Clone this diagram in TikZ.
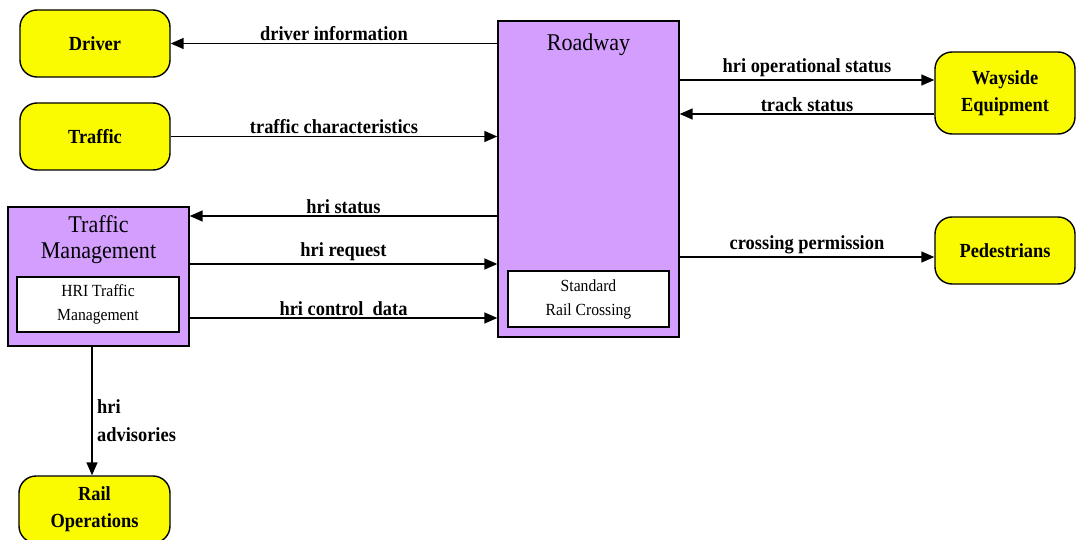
\documentclass[tikz,border=0pt]{standalone}
\usepackage{fontspec}
\setmainfont{Liberation Serif}[FakeStretch=0.92]
\usetikzlibrary{arrows.meta}
\definecolor{termyellow}{RGB}{250,250,0}
\definecolor{procpurple}{RGB}{212,158,255}
\tikzset{
  term/.style={draw, line width=1.4pt, fill=termyellow, rounded corners=17pt,
    minimum width=150pt, minimum height=67pt, inner sep=0pt, align=center,
    font=\fontsize{20}{27}\selectfont\bfseries},
  proc/.style={draw, line width=1.4pt, fill=procpurple, inner sep=0pt},
  sub/.style={draw, line width=1.4pt, fill=white, inner sep=0pt, align=center,
    font=\fontsize{17}{24}\selectfont},
  title/.style={align=center, inner sep=0pt, font=\fontsize{24}{26}\selectfont},
  flow/.style={line width=1.5pt, -{Triangle[length=13pt,width=11pt]}},
  lbl/.style={font=\fontsize{20}{28}\selectfont\bfseries, inner sep=2pt}
}
\begin{document}
\begin{tikzpicture}[x=1pt, y=-1pt]
\useasboundingbox (0,0) rectangle (1078,540);

\node[term] (drv) at (95,43.5) {Driver};
\node[term] (trf) at (95,136.5) {Traffic};
\node[term, minimum width=140pt, minimum height=82pt] (way) at (1005,93) {Wayside\\Equipment};
\node[term, minimum width=140pt] (ped) at (1005,250.5) {Pedestrians};
\node[term, minimum width=151pt] (rail) at (94.5,509.5) {Rail\\Operations};

\node[proc, minimum width=181pt, minimum height=316pt] (road) at (588.5,179) {};
\node[title] (roadtxt) at (588.5,45) {Roadway};
\node[sub, minimum width=161pt, minimum height=56pt] (src) at (588.5,299) {Standard\\Rail Crossing};

\node[proc, minimum width=181pt, minimum height=139pt] (tm) at (98.5,276.5) {};
\node[title] (tmtxt) at (98.5,240) {Traffic\\Management};
\node[sub, minimum width=162pt, minimum height=55pt] (htm) at (98,304.5) {HRI Traffic\\Management};

\draw[flow] (road.west |- drv) -- node[lbl, above] (l1) {driver information} (drv.east);
\draw[flow] (trf.east) -- node[lbl, above] (l2) {traffic characteristics} (road.west |- trf);
\draw[flow] (road.west |- 0,216) -- node[lbl, above] (l3) {hri status} (tm.east |- 0,216);
\draw[flow] (tm.east |- 0,264) -- node[lbl, above] (l4) {hri request} (road.west |- 0,264);
\draw[flow] (tm.east |- 0,318) -- node[lbl, above] (l5) {hri control\ \ data} (road.west |- 0,318);
\draw[flow] (road.east |- 0,80) -- node[lbl, above] (l6) {hri operational status} (way.west |- 0,80);
\draw[flow] (way.west |- 0,114) -- node[lbl, above] (l7) {track status} (road.east |- 0,114);
\draw[flow] (road.east |- 0,257) -- node[lbl, above] (l8) {crossing permission} (ped.west |- 0,257);
\draw[flow] (tm.south -| 92,0) -- (rail.north -| 92,0);
\node[lbl, align=left, anchor=west] (l9) at (95,421) {hri\\advisories};
\end{tikzpicture}
\end{document}
